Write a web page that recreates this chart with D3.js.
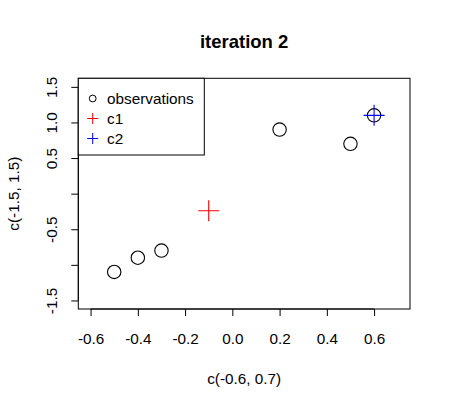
<!DOCTYPE html>
<html><head><meta charset="utf-8">
<script src="https://cdn.jsdelivr.net/npm/d3@7"></script>
<style>body{margin:0;background:#fff}svg{display:block}text{font-family:"Liberation Sans",Arial,sans-serif}</style>
</head><body>
<svg id="c" width="451" height="407"></svg>
<script>
const obsX = [-0.5, -0.4, -0.3, 0.2, 0.5, 0.6];
const obsY = [-1.1, -0.9, -0.8, 0.9, 0.7, 1.1];
const centerNames = ["c1", "c2"];
const centerX = [-0.1, 0.6];
const centerY = [-0.24, 1.1];
const centerColors = ["red", "blue"];
const xTicks = [-0.6, -0.4, -0.2, 0.0, 0.2, 0.4, 0.6];
const yTicks = [-1.5, -1.0, -0.5, 0.0, 0.5, 1.0, 1.5];
const yTickLabels = ["-1.5", "", "-0.5", "", "0.5", "1.0", "1.5"];
const legendLabels = ["observations", "c1", "c2"];

const FS = 15.3;
const FF = "Liberation Sans, Arial, sans-serif";
const svg = d3.select("#c");
const L = 78.3, R = 410, T = 78.3, B = 309;
const x = d3.scaleLinear().domain([-0.652, 0.752]).range([L, R]);
const y = d3.scaleLinear().domain([-1.62, 1.62]).range([B, T]);
const fmt = d => d.toFixed(1);

svg.append("rect").attr("x", L).attr("y", T).attr("width", R - L).attr("height", B - T)
  .attr("fill", "none").attr("stroke", "#000").attr("stroke-width", 1);

const xa = svg.append("g").attr("transform", `translate(0,${B})`)
  .call(d3.axisBottom(x).tickValues(xTicks).tickFormat(fmt).tickSizeOuter(0).tickSize(7));
xa.select(".domain").attr("d", `M${x(-0.6)},0H${x(0.6)}`);
xa.selectAll("text").attr("font-size", FS).attr("font-family", FF).attr("fill", "#000")
  .attr("y", 34.5).attr("dy", 0);

const ya = svg.append("g").attr("transform", `translate(${L},0)`)
  .call(d3.axisLeft(y).tickValues(yTicks).tickFormat((d, i) => yTickLabels[i]).tickSizeOuter(0).tickSize(7));
ya.select(".domain").attr("d", `M0,${y(-1.5)}V${y(1.5)}`);
ya.selectAll("text").attr("font-size", FS).attr("font-family", FF).attr("fill", "#000")
  .attr("text-anchor", "middle").attr("x", 0).attr("dy", 0)
  .attr("transform", "translate(-21.5,0) rotate(-90)");

svg.append("text").attr("x", (L + R) / 2).attr("y", 48).attr("text-anchor", "middle")
  .attr("font-size", 18.5).attr("font-weight", "bold").text("iteration 2");
svg.append("text").attr("x", (L + R) / 2).attr("y", 383.5).attr("text-anchor", "middle")
  .attr("font-size", FS).text("c(-0.6, 0.7)");
svg.append("text").attr("transform", `translate(19,${(T + B) / 2}) rotate(-90)`).attr("text-anchor", "middle")
  .attr("font-size", FS).text("c(-1.5, 1.5)");

svg.append("g").selectAll("circle").data(obsX).join("circle")
  .attr("cx", d => x(d)).attr("cy", (d, i) => y(obsY[i])).attr("r", 6.7)
  .attr("fill", "none").attr("stroke", "#000").attr("stroke-width", 1.1);

const cs = 10.5;
centerX.forEach((cx, i) => {
  const px = x(cx), py = y(centerY[i]);
  svg.append("path").attr("d", `M${px - cs},${py}H${px + cs}M${px},${py - cs}V${py + cs}`)
    .attr("stroke", centerColors[i]).attr("stroke-width", 1.1).attr("fill", "none");
});

// legend
const lgX = L, lgY = T, lgW = 204.3 - L, lgH = 155 - T;
svg.append("rect").attr("x", lgX).attr("y", lgY).attr("width", lgW).attr("height", lgH)
  .attr("fill", "#fff").attr("stroke", "#000").attr("stroke-width", 1);
legendLabels.forEach((lab, i) => {
  const ry = 98.5 + i * 20, sx = 92.7;
  if (i === 0) {
    svg.append("circle").attr("cx", sx).attr("cy", ry).attr("r", 3.4).attr("fill", "none").attr("stroke", "#000").attr("stroke-width", 1);
  } else {
    svg.append("path").attr("d", `M${sx - 5.5},${ry}H${sx + 5.5}M${sx},${ry - 5.5}V${ry + 5.5}`)
      .attr("stroke", centerColors[i - 1]).attr("stroke-width", 1).attr("fill", "none");
  }
  svg.append("text").attr("x", 107).attr("y", ry + 5.5)
    .attr("font-size", FS).text(lab);
});
</script>
</body></html>
